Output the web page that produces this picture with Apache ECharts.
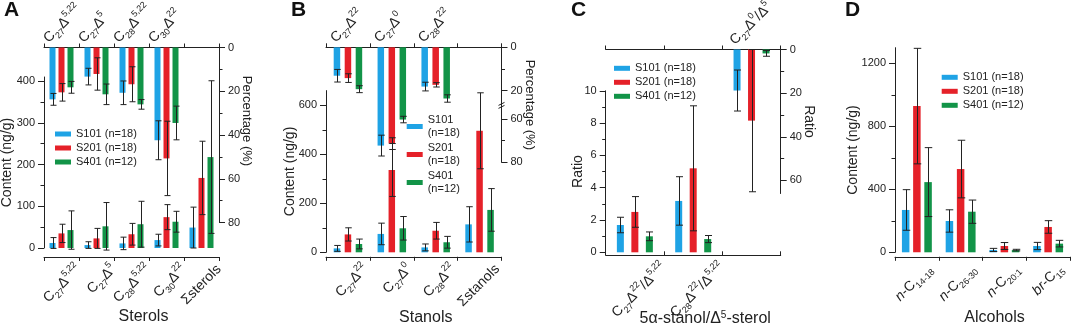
<!DOCTYPE html>
<html lang="en">
<head>
<meta charset="UTF-8">
<script src="https://cdn.jsdelivr.net/npm/echarts@6.0.0/dist/echarts.min.js"></script>
<style>
  html, body { margin: 0; padding: 0; background: #fff; }
  #container { width: 1072px; height: 328px; }
</style>
</head>
<body>
<div id="container"></div>
<script>
  // ---------------- data ----------------
  var seriesNames = ['S101 (n=18)', 'S201 (n=18)', 'S401 (n=12)'];

  // A: sterols
  var sterolLabels = ['C{sub|27}Δ{sup|5,22}', 'C{sub|27}Δ{sup|5}', 'C{sub|28}Δ{sup|5,22}', 'C{sub|30}Δ{sup|22}', 'Σsterols'];
  var sterolPctLabels = ['C{sub|27}Δ{sup|5,22}', 'C{sub|27}Δ{sup|5}', 'C{sub|28}Δ{sup|5,22}', 'C{sub|30}Δ{sup|22}'];
  var sterolS101 = [12, 7, 11, 19, 49],   sterolS101Err = [13, 8, 15, 14, 49];
  var sterolS201 = [35, 23, 33, 74, 168], sterolS201Err = [22, 24, 26, 30, 88];
  var sterolS401 = [43, 52, 57, 63, 218], sterolS401Err = [46, 57, 55, 25, 183];
  var sterolPctS101 = [23.7, 13.3, 20.7, 42.4], sterolPctS101Err = [2.7, 3.8, 5.4, 8.9];
  var sterolPctS201 = [20.5, 12.1, 16.8, 50.7], sterolPctS201Err = [4, 7.4, 8, 17];
  var sterolPctS401 = [18.2, 21.4, 26.0, 34.5], sterolPctS401Err = [2.7, 4.7, 2.2, 7.7];

  // B: stanols
  var stanolLabels = ['C{sub|27}Δ{sup|22}', 'C{sub|27}Δ{sup|0}', 'C{sub|28}Δ{sup|22}', 'Σstanols'];
  var stanolPctLabels = ['C{sub|27}Δ{sup|22}', 'C{sub|27}Δ{sup|0}', 'C{sub|28}Δ{sup|22}'];
  var stanolS101 = [16, 75, 20, 114],  stanolS101Err = [12, 44, 14, 72];
  var stanolS201 = [73, 336, 88, 496], stanolS201Err = [27, 108, 34, 155];
  var stanolS401 = [34, 98, 41, 173],  stanolS401Err = [20, 48, 24, 87];
  var stanolPctS101 = [13.1, 72.3, 18.1], stanolPctS101Err = [2.9, 4.8, 2.0];
  var stanolPctS201 = [14.2, 71.4, 17.3], stanolPctS201Err = [2.0, 2.7, 1.0];
  var stanolPctS401 = [19.3, 60.3, 23.6], stanolPctS401Err = [1.6, 1.5, 1.7];
  var stanolPctTicks = [0, 20, 60, 80], stanolPctMinor = [10, 70];
  var BREAK_LO = 27, BREAK_HI = 54;   // percentage axis of B is cut between these

  // C: 5a-stanol / D5-sterol ratios
  var ratioLabels = ['C{sub|27}Δ{sup|22}/Δ{sup|5,22}', 'C{sub|28}Δ{sup|22}/Δ{sup|5,22}'];
  var ratioTopLabels = ['', '', 'C{sub|27}Δ{sup|0}/Δ{sup|5}'];
  var ratioS101 = [1.69, 3.18, null], ratioS101Err = [0.48, 1.50, null];
  var ratioS201 = [2.50, 5.20, null], ratioS201Err = [0.95, 3.87, null];
  var ratioS401 = [0.99, 0.82, null], ratioS401Err = [0.27, 0.22, null];
  var ratioTopS101 = [null, null, 18.8], ratioTopS101Err = [null, null, 9.4];
  var ratioTopS201 = [null, null, 32.6], ratioTopS201Err = [null, null, 32.6];
  var ratioTopS401 = [null, null, 1.8],  ratioTopS401Err = [null, null, 1.3];

  // D: alcohols
  var alcoholLabels = ['{it|n}-C{sub|14-18}', '{it|n}-C{sub|26-30}', '{it|n}-C{sub|20:1}', '{it|br}-C{sub|15}'];
  var alcoholS101 = [269, 199, 15, 40],  alcoholS101Err = [129, 71, 10, 23];
  var alcoholS201 = [929, 529, 40, 161], alcoholS201Err = [367, 183, 22, 40];
  var alcoholS401 = [446, 258, 14, 55],  alcoholS401Err = [219, 74, 5, 21];

  // ---------------- style ----------------
  var FONT = '"Liberation Sans", Arial, sans-serif';
  var INK = '#222';
  var COLORS = ['#1fa3e5', '#e52129', '#129448'];
  var richLab = {
    sub: { fontSize: 9, lineHeight: 9, verticalAlign: 'bottom', color: INK, fontFamily: FONT },
    sup: { fontSize: 9, lineHeight: 9, verticalAlign: 'top', color: INK, fontFamily: FONT },
    it: { fontSize: 14, lineHeight: 20, fontStyle: 'italic', color: INK, fontFamily: FONT }
  };

  function brk(v) { return v > BREAK_LO ? v - (BREAK_HI - BREAK_LO) : v; }
  function same(v) { return v; }
  function blanks(arr, n) {           // pad label lists with distinct blank strings
    var out = arr.slice();
    while (out.length < n) out.push(new Array(out.length + 1).join(' '));
    return out;
  }

  var grids = [
    { left: 44, top: 77, width: 175, height: 171 },        // 0 A content
    { left: 44, top: 47.5, width: 175, height: 175 },      // 1 A percentage
    { left: 326, top: 90.6, width: 175.5, height: 161.7 }, // 2 B content
    { left: 326, top: 47.3, width: 175.5, height: 115 },   // 3 B percentage
    { left: 605.7, top: 90.8, width: 175, height: 161.5 }, // 4 C stanol/sterol
    { left: 605.7, top: 49.5, width: 175, height: 144 },   // 5 C top
    { left: 895, top: 47.7, width: 175, height: 204.6 }    // 6 D
  ];

  var xAxes = [], yAxes = [], series = [];

  function catAxis(grid, pos, n, offset, inside) {
    xAxes.push({
      type: 'category', gridIndex: grid, position: pos, offset: offset,
      data: blanks([], n), boundaryGap: true,
      axisLine: { show: true, onZero: false, lineStyle: { color: INK } },
      axisTick: { show: true, length: 4, inside: !!inside, lineStyle: { color: INK } },
      axisLabel: { show: false }, splitLine: { show: false }
    });
    return xAxes.length - 1;
  }

  // rotated labels hang off the category boundaries: they get their own
  // slightly shifted copy of the panel grid and an axis without gap
  function labelAxis(grid, pos, labels, offset, shift) {
    var g = grids[grid];
    grids.push({ left: g.left + shift, top: g.top, width: g.width, height: g.height });
    var gi = grids.length - 1;
    yAxes.push({ type: 'value', gridIndex: gi, show: false });
    xAxes.push({
      type: 'category', gridIndex: gi, position: pos, offset: offset,
      data: labels, boundaryGap: false,
      axisLine: { show: false }, axisTick: { show: false }, splitLine: { show: false },
      axisLabel: { interval: 0, rotate: 45, margin: pos === 'top' ? 7 : 10, fontSize: 14, lineHeight: 20,
        color: INK, fontFamily: FONT, rich: richLab }
    });
    return xAxes.length - 1;
  }

  function valAxis(grid, pos, max, labels, majors, minors, inverse) {
    yAxes.push({
      type: 'value', gridIndex: grid, position: pos, min: 0, max: max, inverse: !!inverse,
      axisLine: { show: true, onZero: false, lineStyle: { color: INK } },
      axisTick: { show: true, length: 6, customValues: majors, lineStyle: { color: INK } },
      axisLabel: { customValues: labels, fontSize: 11, margin: 9, color: INK, fontFamily: FONT,
        formatter: function (v) { return String(v); } },
      splitLine: { show: false }
    });
    var idx = yAxes.length - 1;
    // twin axis with only the short minor ticks
    yAxes.push({
      type: 'value', gridIndex: grid, position: pos, min: 0, max: max, inverse: !!inverse,
      axisLine: { show: false }, axisLabel: { show: false }, splitLine: { show: false },
      axisTick: { show: true, length: 3.5, customValues: minors, lineStyle: { color: INK } }
    });
    return idx;
  }

  function setName(axis, name, gap, extra) {
    axis.name = name;
    axis.nameLocation = 'middle';
    axis.nameGap = gap;
    axis.nameMoveOverlap = false;
    axis.nameTextStyle = { fontSize: 14, color: INK, fontFamily: FONT };
    for (var k in extra) axis.nameTextStyle[k] = extra[k];
  }

  function bars(xi, yi, groups, barW, gap, map) {
    groups.forEach(function (g, k) {
      series.push({
        type: 'bar', name: seriesNames[k], xAxisIndex: xi, yAxisIndex: yi,
        data: g[0].map(function (v) { return v == null ? null : map(v); }),
        barWidth: barW, barGap: (gap / barW * 100) + '%',
        itemStyle: { color: COLORS[k] }
      });
    });
    var rows = [];
    groups.forEach(function (g, k) {
      g[0].forEach(function (v, i) {
        if (v == null) return;
        rows.push([i, map(v - g[1][i]), map(v + g[1][i]), k]);
      });
    });
    series.push({
      type: 'custom', xAxisIndex: xi, yAxisIndex: yi, silent: true, z: 5, data: rows,
      encode: { x: 0, y: [1, 2] },
      renderItem: function (params, api) {
        var c = api.value(0), k = api.value(3);
        var p1 = api.coord([c, api.value(1)]);
        var p2 = api.coord([c, api.value(2)]);
        var x = Math.round(p1[0] + (k - 1) * (barW + gap)) + 0.5;
        var h = barW / 2;
        var st = { stroke: INK, lineWidth: 1 };
        return {
          type: 'group', children: [
            { type: 'line', shape: { x1: x, y1: p1[1], x2: x, y2: p2[1] }, style: st },
            { type: 'line', shape: { x1: x - h, y1: p1[1], x2: x + h, y2: p1[1] }, style: st },
            { type: 'line', shape: { x1: x - h, y1: p2[1], x2: x + h, y2: p2[1] }, style: st }
          ]
        };
      }
    });
  }

  var xNameStyle = { fontSize: 16, padding: [0, 0, 0, 24] };

  // ---- A ----
  var xA = catAxis(0, 'bottom', sterolLabels.length, 9);
  setName(xAxes[xA], 'Sterols', 52, xNameStyle);
  var xAt = catAxis(1, 'top', sterolLabels.length, 0);
  var yA = valAxis(0, 'left', 410, [0, 100, 200, 300, 400], [0, 100, 200, 300, 400], [50, 150, 250, 350]);
  setName(yAxes[yA], 'Content (ng/g)', 30);
  var yAt = valAxis(1, 'right', 80, [0, 20, 40, 60, 80], [0, 20, 40, 60, 80], [10, 30, 50, 70], true);
  setName(yAxes[yAt], 'Percentage (%)', 21, { fontSize: 13, padding: [0, 28, 0, 0] });
  yAxes[yAt].nameRotate = -90;
  bars(xA, yA, [[sterolS101, sterolS101Err], [sterolS201, sterolS201Err], [sterolS401, sterolS401Err]], 6, 3, same);
  bars(xAt, yAt, [[sterolPctS101, sterolPctS101Err], [sterolPctS201, sterolPctS201Err], [sterolPctS401, sterolPctS401Err]], 6, 3, same);

  // ---- B ----
  var xB = catAxis(2, 'bottom', stanolLabels.length, 4.5);
  setName(xAxes[xB], 'Stanols', 53, xNameStyle);
  var xBt = catAxis(3, 'top', stanolLabels.length, 0);
  var yB = valAxis(2, 'left', 660, [0, 200, 400, 600], [0, 200, 400, 600], [100, 300, 500]);
  setName(yAxes[yB], 'Content (ng/g)', 29);
  var yBt = valAxis(3, 'right', brk(80), stanolPctTicks.map(brk), stanolPctTicks.map(brk), stanolPctMinor.map(brk), true);
  yAxes[yBt].axisLabel.formatter = function (v) { return String(v > BREAK_LO ? v + (BREAK_HI - BREAK_LO) : v); };
  setName(yAxes[yBt], 'Percentage (%)', 22, { fontSize: 13 });
  yAxes[yBt].nameRotate = -90;
  bars(xB, yB, [[stanolS101, stanolS101Err], [stanolS201, stanolS201Err], [stanolS401, stanolS401Err]], 6.5, 4.5, same);
  bars(xBt, yBt, [[stanolPctS101, stanolPctS101Err], [stanolPctS201, stanolPctS201Err], [stanolPctS401, stanolPctS401Err]], 6.5, 4.5, brk);

  // ---- C ----
  var xC = catAxis(4, 'bottom', ratioTopLabels.length, 3, true);
  setName(xAxes[xC], '5α-stanol/Δ{sup|5}-sterol', 55, {
    fontSize: 16, padding: [0, 0, 0, 24],
    rich: { sup: { fontSize: 10, verticalAlign: 'top', lineHeight: 10, color: INK, fontFamily: FONT } }
  });
  var xCt = catAxis(5, 'top', ratioTopLabels.length, 0);
  var yC = valAxis(4, 'left', 10, [0, 2, 4, 6, 8, 10], [0, 2, 4, 6, 8, 10], [1, 3, 5, 7, 9]);
  setName(yAxes[yC], 'Ratio', 21);
  var yCt = valAxis(5, 'right', 66, [0, 20, 40, 60], [0, 20, 40, 60], [10, 30, 50], true);
  setName(yAxes[yCt], 'Ratio', 21);
  yAxes[yCt].nameRotate = -90;
  bars(xC, yC, [[ratioS101, ratioS101Err], [ratioS201, ratioS201Err], [ratioS401, ratioS401Err]], 7, 7.5, same);
  bars(xCt, yCt, [[ratioTopS101, ratioTopS101Err], [ratioTopS201, ratioTopS201Err], [ratioTopS401, ratioTopS401Err]], 7, 7.5, same);

  // ---- D ----
  var xD = catAxis(6, 'bottom', alcoholLabels.length, 4.5);
  setName(xAxes[xD], 'Alcohols', 53, xNameStyle);
  var yD = valAxis(6, 'left', 1300, [0, 400, 800, 1200], [0, 400, 800, 1200], [200, 600, 1000]);
  setName(yAxes[yD], 'Content (ng/g)', 35);
  bars(xD, yD, [[alcoholS101, alcoholS101Err], [alcoholS201, alcoholS201Err], [alcoholS401, alcoholS401Err]], 7.5, 3.7, same);

  // ---- rotated category labels ----
  labelAxis(0, 'bottom', [''].concat(sterolLabels), 9, 0);
  labelAxis(1, 'top', blanks(sterolPctLabels, sterolLabels.length + 1), 0, 2);
  labelAxis(2, 'bottom', [''].concat(stanolLabels), 4.5, -4);
  labelAxis(3, 'top', blanks(stanolPctLabels, stanolLabels.length + 1), 0, 7);
  labelAxis(4, 'bottom', blanks([''].concat(ratioLabels), ratioTopLabels.length + 1), 3, 0);
  labelAxis(5, 'top', blanks(['', ' '].concat(ratioTopLabels.slice(2)), ratioTopLabels.length + 1), 0, 10);
  labelAxis(6, 'bottom', [''].concat(alcoholLabels), 4.5, -9);

  grids.forEach(function (g) { g.containLabel = false; g.outerBoundsMode = 'none'; });

  function legendAt(left, top, twoLines) {
    return {
      data: seriesNames, orient: 'vertical', left: left, top: top, padding: 0,
      itemWidth: 16, itemHeight: 5, itemGap: twoLines ? 1 : 0, icon: 'rect', selectedMode: false,
      textStyle: { fontSize: 11, lineHeight: twoLines ? 13.5 : 14, color: INK, fontFamily: FONT },
      formatter: function (n) { return twoLines ? n.replace(' ', '\n') : n; }
    };
  }

  function letter(text, left) {
    return { text: text, left: left, top: 0, padding: 0,
      textStyle: { fontSize: 21, fontWeight: 'bold', color: '#111', fontFamily: FONT } };
  }

  var option = {
    animation: false,
    textStyle: { fontFamily: FONT },
    title: [letter('A', 4), letter('B', 291), letter('C', 571), letter('D', 845)],
    legend: [legendAt(55, 127, false), legendAt(406.7, 113, true), legendAt(614, 61.3, false), legendAt(941.7, 70.3, false)],
    grid: grids,
    xAxis: xAxes,
    yAxis: yAxes,
    series: series
  };

  var myChart = echarts.init(document.getElementById('container'));
  myChart.setOption(option);

  // break mark on the cut percentage axis of panel B (right edge of its grid)
  var nB = stanolLabels.length;
  var pLast = myChart.convertToPixel({ xAxisIndex: xBt }, nB - 1);
  var pPrev = myChart.convertToPixel({ xAxisIndex: xBt }, nB - 2);
  var bx = pLast + (pLast - pPrev) / 2;
  var by = myChart.convertToPixel({ yAxisIndex: yBt }, BREAK_LO);
  myChart.setOption({
    graphic: [{
      type: 'group', x: bx, y: by, z: 100,
      children: [
        { type: 'rect', shape: { x: -1, y: -1.5, width: 3, height: 3 }, style: { fill: '#fff' } },
        { type: 'line', shape: { x1: -3, y1: -0.5, x2: 3, y2: -3.5 }, style: { stroke: INK, lineWidth: 1 } },
        { type: 'line', shape: { x1: -3, y1: 2.5, x2: 3, y2: -0.5 }, style: { stroke: INK, lineWidth: 1 } }
      ]
    }]
  });
</script>
</body>
</html>
